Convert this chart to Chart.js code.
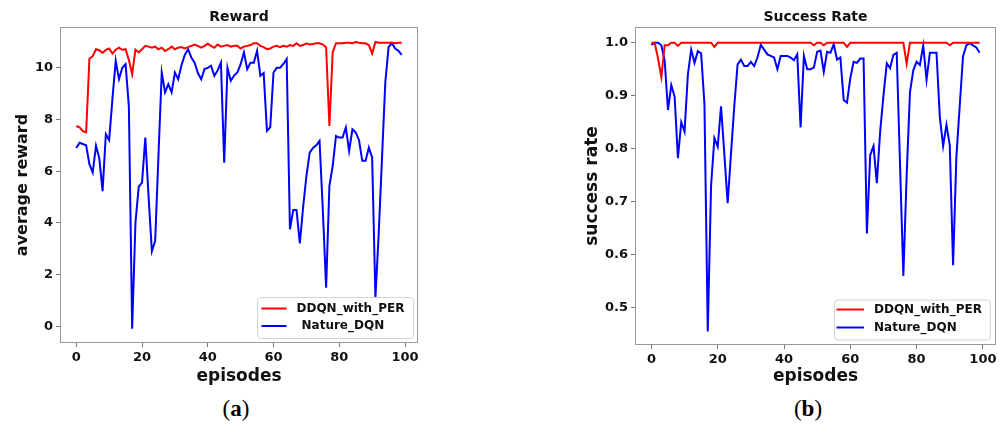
<!DOCTYPE html>
<html><head><meta charset="utf-8">
<script src="https://cdn.jsdelivr.net/npm/chart.js@4/dist/chart.umd.min.js"></script>
<style>
html,body{margin:0;padding:0;background:#fff;}
#wrap{position:relative;width:1001px;height:429px;overflow:hidden;background:#fff;}
canvas{position:absolute;top:0;}
#c1{left:0;}
#c2{left:540px;}
.cap{position:absolute;top:396px;font-family:'Liberation Serif','DejaVu Serif',serif;font-size:23px;color:#000;transform:translateX(-50%);white-space:nowrap;}
</style></head>
<body><div id="wrap">
<canvas id="c1" width="480" height="395" style="width:480px;height:395px"></canvas>
<canvas id="c2" width="461" height="395" style="width:461px;height:395px"></canvas>
<div class="cap" style="left:236px">(<b>a</b>)</div>
<div class="cap" style="left:808px">(<b>b</b>)</div>
</div>
<script>
const episodes = Array.from({length: 100}, (_, i) => i);
const xTicks = [0, 20, 40, 60, 80, 100];
const rewardTicks = [0, 2, 4, 6, 8, 10];
const successTicks = [0.5, 0.6, 0.7, 0.8, 0.9, 1.0];
const seriesNames = ['DDQN_with_PER', 'Nature_DQN'];

const rewardDDQN = [
7.75, 7.7, 7.55, 7.5, 10.35, 10.45, 10.72, 10.68, 10.58, 10.7,
10.75, 10.55, 10.7, 10.78, 10.7, 10.72, 10.3, 9.75, 10.7, 10.6,
10.72, 10.85, 10.82, 10.78, 10.82, 10.72, 10.78, 10.65, 10.72, 10.82,
10.72, 10.78, 10.8, 10.75, 10.8, 10.85, 10.9, 10.85, 10.78, 10.85,
10.93, 10.85, 10.78, 10.9, 10.82, 10.85, 10.88, 10.82, 10.85, 10.85,
10.75, 10.82, 10.85, 10.88, 10.95, 10.95, 10.85, 10.8, 10.72, 10.75,
10.82, 10.85, 10.8, 10.85, 10.82, 10.88, 10.85, 10.95, 10.85, 10.88,
10.95, 10.9, 10.92, 10.95, 10.95, 10.9, 10.8, 7.75, 10.6, 10.95,
10.95, 10.95, 10.97, 10.97, 10.95, 11.0, 10.97, 10.95, 10.95, 10.88,
10.55, 11.0, 10.97, 10.97, 10.97, 10.97, 10.97, 10.95, 10.97, 10.97];

const rewardNature = [
6.9, 7.1, 7.05, 7.0, 6.27, 5.95, 6.98, 6.5, 5.23, 7.43,
7.2, 8.8, 10.27, 9.56, 10.0, 10.14, 8.5, -0.1, 4.0, 5.4,
5.56, 7.3, 5.0, 2.9, 3.3, 6.6, 9.82, 9.05, 9.37, 9.05,
9.82, 9.56, 10.1, 10.5, 10.72, 10.4, 10.2, 9.8, 9.56, 9.95,
10.0, 10.08, 9.69, 9.9, 10.2, 6.33, 10.0, 9.5, 9.7, 9.82,
10.14, 10.6, 9.95, 10.2, 10.2, 10.66, 9.69, 9.8, 7.56, 7.7,
9.82, 10.0, 10.0, 10.15, 10.34, 3.75, 4.5, 4.5, 3.2, 4.6,
5.8, 6.72, 6.9, 7.0, 7.17, 4.5, 1.49, 5.43, 6.2, 7.36,
7.3, 7.3, 7.69, 6.78, 7.62, 7.5, 7.2, 6.4, 6.4, 6.91,
6.53, 1.1, 3.6, 6.5, 9.43, 10.8, 10.96, 10.75, 10.66, 10.5];

const successDDQN = [
1.0, 1.0, 0.97, 0.935, 0.995, 0.995, 1.0, 1.0, 0.994, 1.0,
1.0, 1.0, 1.0, 1.0, 1.0, 1.0, 1.0, 1.0, 1.0, 0.992,
1.0, 1.0, 1.0, 1.0, 1.0, 1.0, 1.0, 1.0, 1.0, 1.0,
1.0, 1.0, 1.0, 1.0, 1.0, 1.0, 1.0, 1.0, 1.0, 1.0,
1.0, 1.0, 1.0, 1.0, 1.0, 1.0, 1.0, 1.0, 1.0, 0.995,
1.0, 1.0, 0.995, 1.0, 1.0, 1.0, 1.0, 1.0, 1.0, 0.992,
1.0, 1.0, 1.0, 1.0, 1.0, 1.0, 1.0, 1.0, 1.0, 1.0,
1.0, 1.0, 1.0, 1.0, 1.0, 1.0, 1.0, 0.96, 1.0, 1.0,
1.0, 1.0, 1.0, 1.0, 1.0, 1.0, 1.0, 1.0, 1.0, 1.0,
0.995, 1.0, 1.0, 1.0, 1.0, 1.0, 1.0, 1.0, 1.0, 1.0];

const successNature = [
0.996, 1.0, 1.0, 0.995, 0.966, 0.873, 0.92, 0.898, 0.782, 0.85,
0.832, 0.94, 0.987, 0.962, 0.984, 0.98, 0.884, 0.455, 0.73, 0.82,
0.804, 0.88, 0.79, 0.697, 0.79, 0.88, 0.959, 0.968, 0.956, 0.956,
0.964, 0.956, 0.972, 0.996, 0.987, 0.978, 0.975, 0.972, 0.95, 0.975,
0.975, 0.975, 0.972, 0.967, 0.978, 0.84, 0.975, 0.95, 0.95, 0.953,
0.983, 0.985, 0.945, 0.983, 0.981, 0.997, 0.968, 0.972, 0.892, 0.887,
0.933, 0.964, 0.962, 0.97, 0.97, 0.64, 0.788, 0.805, 0.735, 0.832,
0.9, 0.961, 0.952, 0.977, 0.981, 0.77, 0.56, 0.75, 0.907, 0.948,
0.964, 0.958, 0.995, 0.93, 0.981, 0.981, 0.981, 0.86, 0.805, 0.845,
0.807, 0.58, 0.785, 0.88, 0.974, 0.995, 0.999, 0.995, 0.991, 0.981];

const FONT = "'DejaVu Sans', sans-serif";
const TXT = '#111';

const frameLegend = {
  id: 'frameLegend',
  afterDatasetsDraw(chart, args, o) {
    const {ctx, chartArea: a} = chart;
    ctx.save();
    ctx.strokeStyle = '#999';
    ctx.lineWidth = 1;
    ctx.strokeRect(Math.round(a.left) + 0.5, Math.round(a.top) + 0.5,
      Math.round(a.right - a.left) - 1, Math.round(a.bottom - a.top) - 1);
    const bx = a.right - o.right - o.width;
    const by = a.bottom - o.bottom - o.height;
    ctx.beginPath();
    if (ctx.roundRect) ctx.roundRect(bx + 0.5, by + 0.5, o.width, o.height, 3);
    else ctx.rect(bx + 0.5, by + 0.5, o.width, o.height);
    ctx.fillStyle = 'rgba(255,255,255,0.85)';
    ctx.fill();
    ctx.strokeStyle = '#d4d4d4';
    ctx.stroke();
    chart.data.datasets.forEach((ds, i) => {
      const y = by + o.rows[i];
      ctx.strokeStyle = ds.borderColor;
      ctx.lineWidth = 2;
      ctx.beginPath();
      ctx.moveTo(bx + o.lx0, y);
      ctx.lineTo(bx + o.lx1, y);
      ctx.stroke();
      ctx.fillStyle = TXT;
      ctx.font = 'bold 12px ' + FONT;
      ctx.textBaseline = 'middle';
      ctx.textAlign = 'left';
      ctx.fillText(ds.label, bx + o.tx[i], y);
    });
    ctx.restore();
  }
};

function makeChart(id, cfg) {
  const H = 395;
  return new Chart(document.getElementById(id), {
    type: 'line',
    data: {
      labels: episodes,
      datasets: [
        {label: seriesNames[0], data: cfg.a, borderColor: '#ff0000', backgroundColor: '#ff0000', borderWidth: 2, pointRadius: 0, tension: 0, fill: false},
        {label: seriesNames[1], data: cfg.b, borderColor: '#0000ff', backgroundColor: '#0000ff', borderWidth: 2, pointRadius: 0, tension: 0, fill: false}
      ]
    },
    plugins: [frameLegend],
    options: {
      responsive: false,
      animation: false,
      devicePixelRatio: 1,
      layout: {padding: {left: 0, right: cfg.padRight, top: 0, bottom: 0}},
      plugins: {
        legend: {display: false},
        tooltip: {enabled: false},
        title: {display: true, text: cfg.title, fullSize: false, color: TXT,
          font: {family: FONT, size: 14, weight: 'bold', lineHeight: 1.2},
          padding: {top: 8.6, bottom: 1.6}},
        frameLegend: cfg.legend
      },
      scales: {
        x: {
          type: 'linear', min: -4.95, max: 103.95,
          afterBuildTicks: s => { s.ticks = xTicks.map(v => ({value: v})); },
          afterFit: s => { s.height = H - cfg.bottom; },
          grid: {display: true, drawOnChartArea: false, drawTicks: true, tickLength: 4, tickColor: '#777'},
          border: {display: false},
          ticks: {font: {family: FONT, size: 13, weight: 'bold'}, color: TXT, padding: 3, maxRotation: 0, autoSkip: false,
            callback: v => String(v)},
          title: {display: true, text: 'episodes', color: TXT, font: {family: FONT, size: 17, weight: 'bold', lineHeight: 1.2},
            padding: {top: 0, bottom: H - 377 - 10.2}}
        },
        y: {
          type: 'linear', min: cfg.ymin, max: cfg.ymax,
          afterBuildTicks: s => { s.ticks = cfg.ticks.map(v => ({value: v})); },
          afterFit: s => { s.width = cfg.left; },
          grid: {display: true, drawOnChartArea: false, drawTicks: true, tickLength: 4, tickColor: '#777'},
          border: {display: false},
          ticks: {font: {family: FONT, size: 13, weight: 'bold'}, color: TXT, padding: 3, autoSkip: false,
            callback: cfg.fmt},
          title: {display: true, text: cfg.ytitle, color: TXT, font: {family: FONT, size: cfg.ysize, weight: 'bold', lineHeight: 1.2},
            padding: {top: cfg.ytitleX - cfg.ysize * 0.6, bottom: 0}}
        }
      }
    }
  });
}

makeChart('c1', {
  a: rewardDDQN, b: rewardNature, title: 'Reward', ytitle: 'average reward',
  ymin: -0.65, ymax: 11.58, ticks: rewardTicks, fmt: v => String(v),
  left: 60, padRight: 480 - 418, bottom: 343, ytitleX: 22.5, ysize: 16,
  legend: {width: 156, height: 41, right: 5, bottom: 5, rows: [11.5, 29], lx0: 4.5, lx1: 29.5, tx: [39.5, 44.5]}
});

makeChart('c2', {
  a: successDDQN, b: successNature, title: 'Success Rate', ytitle: 'success rate',
  ymin: 0.4296, ymax: 1.0296, ticks: successTicks, fmt: v => Number(v).toFixed(1),
  left: 95, padRight: 5, bottom: 345, ytitleX: 53, ysize: 17,
  legend: {width: 156, height: 40, right: 6, bottom: 5.5, rows: [10, 28], lx0: 2.5, lx1: 30, tx: [40, 40]}
});
</script>
</body></html>
